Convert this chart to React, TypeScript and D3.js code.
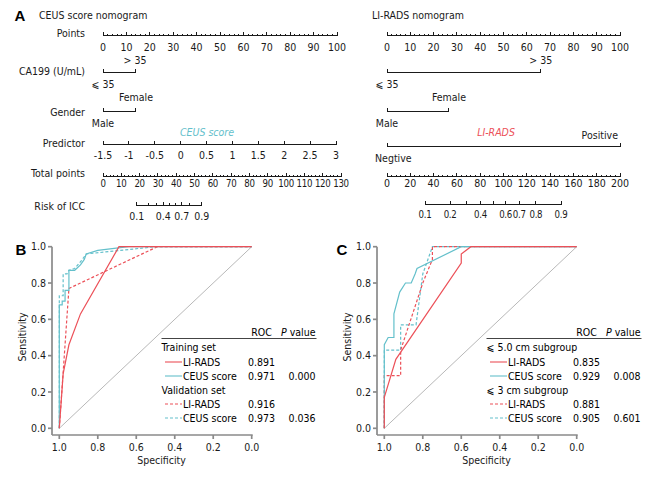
import React from 'react';
import * as d3 from 'd3';

const FONT = "'DejaVu Sans Condensed', 'Liberation Sans', sans-serif";
const RED = '#ec5058';
const TEAL = '#64c0cb';
const AXIS = '#8a8a8a';
const INK = '#1a1a1a';

// ---- nomogram data ----
const pointTicks = d3.range(0, 101, 10);
const pointMinor = d3.range(0, 101, 2);
const ca199Levels = ['⩽ 35', '> 35'];
const ceusCa199Pts = [0, 13.7];
const liradsCa199Pts = [0, 66];
const genderLevels = ['Male', 'Female'];
const ceusGenderPts = [0, 14.1];
const liradsGenderPts = [0, 26.6];
const ceusPredTicks = [-1.5, -1, -0.5, 0, 0.5, 1, 1.5, 2, 2.5, 3];
const liradsPredLevels = ['Negtive', 'Positive'];
const liradsPredPts = [0, 100];
const ceusTotalTicks = d3.range(0, 131, 10);
const ceusTotalMinor = d3.range(0, 131, 2);
const liradsTotalTicks = d3.range(0, 201, 20);
const liradsTotalMinor = d3.range(0, 201, 4);
const riskTicks = [0.1, 0.2, 0.3, 0.4, 0.5, 0.6, 0.7, 0.8, 0.9];
const ceusRiskLabels = [0.1, 0.4, 0.7, 0.9];
const liradsRiskLabels = [0.1, 0.2, 0.4, 0.6, 0.7, 0.8, 0.9];

// ---- ROC data: [specificity, sensitivity] ----
const bTrainLirads = [[1, 0], [0.98, 0.3], [0.95, 0.46], [0.89, 0.63], [0.69, 1], [0, 1]];
const bTrainCeus = [[1, 0], [1, 0.68], [0.985, 0.68], [0.985, 0.7], [0.97, 0.7], [0.97, 0.76], [0.95, 0.76], [0.95, 0.87], [0.92, 0.87], [0.89, 0.9], [0.87, 0.93], [0.86, 0.96], [0.8, 0.98], [0.64, 1], [0, 1]];
const bValidLirads = [[1, 0], [0.95, 0.77], [0.49, 1], [0, 1]];
const bValidCeus = [[1, 0], [1, 0.73], [0.98, 0.73], [0.98, 0.85], [0.96, 0.85], [0.95, 0.87], [0.92, 0.88], [0.88, 0.93], [0.86, 0.96], [0.5, 1], [0, 1]];

const cTrainLirads = [[1, 0], [1, 0.17], [0.94, 0.38], [0.6, 0.91], [0.6, 0.96], [0.55, 1], [0, 1]];
const cTrainCeus = [[1, 0], [1, 0.46], [0.98, 0.5], [0.95, 0.5], [0.95, 0.63], [0.92, 0.75], [0.89, 0.8], [0.86, 0.8], [0.84, 0.85], [0.83, 0.88], [0.6, 1], [0, 1]];
const cValidLirads = [[1, 0], [1, 0.29], [0.915, 0.29], [0.915, 0.43], [0.8, 0.8], [0.75, 0.93], [0.75, 1], [0, 1]];
const cValidCeus = [[1, 0], [1, 0.43], [0.915, 0.43], [0.915, 0.57], [0.835, 0.57], [0.8, 0.85], [0.75, 1], [0, 1]];

const rocTicks = [0, 0.2, 0.4, 0.6, 0.8, 1];
const seriesNames = ['LI-RADS', 'CEUS score'];
const bGroups = ['Training set', 'Validation set'];
const bRoc = ['0.891', '0.971', '0.916', '0.973'];
const bP = ['', '0.000', '', '0.036'];
const cGroups = ['⩽ 5.0 cm subgroup', '⩽ 3 cm subgroup'];
const cRoc = ['0.835', '0.929', '0.881', '0.905'];
const cP = ['', '0.008', '', '0.601'];

const logit = (p: number) => Math.log(p / (1 - p));

function NomoAxis({ x, y, ticks, minor = [], labels, labelY, fmt = (v: number) => String(v), majorLen = 4, minorLen = 2, labelSize }: any) {
  const [a, b] = x.range();
  return (
    <g shapeRendering="crispEdges" stroke={INK}>
      <line x1={a} x2={b} y1={y} y2={y} />
      {minor.map((v: number) => <line key={'m' + v} x1={x(v)} x2={x(v)} y1={y} y2={y - minorLen} />)}
      {ticks.map((v: number) => <line key={'t' + v} x1={x(v)} x2={x(v)} y1={y} y2={y - majorLen} />)}
      <g stroke="none" fill={INK} textAnchor="middle" fontSize={labelSize} letterSpacing={labelSize ? -0.3 : undefined}>
        {labels.map((v: number) => <text key={'l' + v} x={x(v)} y={labelY} dy="0.35em">{fmt(v)}</text>)}
      </g>
    </g>
  );
}

function Bracket({ pts, levels, scale, y, above = 12, below = 12 }: any) {
  const xs = pts.map((p: number) => scale(p));
  return (
    <g>
      <g shapeRendering="crispEdges" stroke={INK}>
        <line x1={xs[0]} x2={xs[1]} y1={y} y2={y} />
        {xs.map((v: number, i: number) => <line key={i} x1={v} x2={v} y1={y} y2={y - 4} />)}
      </g>
      <text x={xs[0]} y={y + below} dy="0.35em" textAnchor="middle">{levels[0]}</text>
      <text x={xs[1]} y={y - above} dy="0.35em" textAnchor="middle">{levels[1]}</text>
    </g>
  );
}

function RocPanel({ dx, tag, curves, groups, roc, p }: any) {
  const x = d3.scaleLinear().domain([1, 0]).range([59.3 + dx, 251.7 + dx]);
  const y = d3.scaleLinear().domain([0, 1]).range([428.3, 246.7]);
  const line = d3.line<number[]>().x(d => x(d[0])).y(d => y(d[1]));
  const axX = 52 + dx;
  const axY = 435;
  const rowY = [347, 362, 376, 390, 404, 418];
  const colRoc = 261.5 + dx;
  const colP = 315.5 + dx;
  const left = 161.5 + dx;
  const styles = [
    { stroke: RED, dash: null },
    { stroke: TEAL, dash: null },
    { stroke: RED, dash: '3,2' },
    { stroke: TEAL, dash: '3,2' },
  ];
  const order = [3, 2, 1, 0];
  return (
    <g>
      <text x={tag === 'B' ? 21 : 342} y={250} dy="0.35em" textAnchor="middle" fontWeight="bold" fontSize={15} fontFamily="'Liberation Sans', sans-serif">{tag}</text>
      <line x1={x(1)} y1={y(0)} x2={x(0)} y2={y(1)} stroke="#b8b8b8" strokeWidth={1} />
      {order.map(i => (
        <path key={i} d={line(curves[i]) || ''} fill="none" stroke={styles[i].stroke} strokeWidth={1.2} strokeDasharray={styles[i].dash || undefined} />
      ))}
      <g stroke={AXIS} strokeWidth={1.7}>
        <line x1={axX} x2={axX} y1={y(1)} y2={axY} />
        <line x1={axX} x2={x(0) + 1} y1={axY} y2={axY} />
        {rocTicks.map(t => <line key={'y' + t} x1={axX - 4} x2={axX} y1={y(t)} y2={y(t)} />)}
        {rocTicks.map(t => <line key={'x' + t} x1={x(t)} x2={x(t)} y1={axY} y2={axY + 4} />)}
      </g>
      <g fill={INK}>
        {rocTicks.map(t => <text key={'yl' + t} x={axX - 6} y={y(t)} dy="0.35em" textAnchor="end">{t.toFixed(1)}</text>)}
        {rocTicks.map(t => <text key={'xl' + t} x={x(t)} y={447} dy="0.35em" textAnchor="middle">{t.toFixed(1)}</text>)}
        <text x={(x(1) + x(0)) / 2 + 6} y={460} dy="0.35em" textAnchor="middle">Specificity</text>
        <text transform={`translate(${22 + dx},${337}) rotate(-90)`} dy="0.35em" textAnchor="middle">Sensitivity</text>
      </g>
      {/* legend table */}
      <line x1={left} x2={colP + 1} y1={338.5} y2={338.5} stroke="#444" strokeWidth={1} />
      <text x={colRoc} y={332} dy="0.35em" textAnchor="middle">ROC</text>
      <text x={colP} y={332} dy="0.35em" textAnchor="end"><tspan fontStyle="italic">P</tspan> value</text>
      {[0, 1].map(g => (
        <g key={g}>
          <text x={left} y={rowY[g * 3]} dy="0.35em">{groups[g]}</text>
          {[0, 1].map(s => {
            const k = g * 2 + s;
            const ry = rowY[g * 3 + 1 + s];
            return (
              <g key={s}>
                <line x1={left + 3.5} x2={left + 20.5} y1={ry} y2={ry} stroke={styles[k].stroke} strokeWidth={1.1} strokeDasharray={styles[k].dash || undefined} />
                <text x={left + 21.5} y={ry} dy="0.35em">{seriesNames[s]}</text>
                <text x={colRoc} y={ry} dy="0.35em" textAnchor="middle">{roc[k]}</text>
                {p[k] ? <text x={colP} y={ry} dy="0.35em" textAnchor="end">{p[k]}</text> : null}
              </g>
            );
          })}
        </g>
      ))}
    </g>
  );
}

function Nomogram({ left, title, titleX }: any) {
  const ceus = left;
  const px = d3.scaleLinear().domain([0, 100]).range(ceus ? [103, 337] : [387, 620]);
  const labX = 85;
  const total = ceus
    ? d3.scaleLinear().domain([0, 130]).range([103, 341])
    : d3.scaleLinear().domain([0, 200]).range([387, 620]);
  const riskLin = ceus
    ? d3.scaleLinear().domain([logit(0.1), logit(0.9)]).range([136.7, 201.7])
    : d3.scaleLinear().domain([logit(0.1), logit(0.9)]).range([425, 561]);
  const risk: any = (p: number) => riskLin(logit(p));
  risk.range = () => [risk(0.1), risk(0.9)];
  const pred = d3.scaleLinear().domain([-1.5, 3]).range([103, 336]);
  return (
    <g fill={INK}>
      <text x={titleX} y={15} dy="0.35em">{title}</text>
      {ceus && (
        <g textAnchor="end">
          <text x={labX} y={35} dy="0.2em">Points</text>
          <text x={labX} y={71} dy="0.35em">CA199 (U/mL)</text>
          <text x={labX} y={112} dy="0.35em">Gender</text>
          <text x={labX} y={143} dy="0.35em">Predictor</text>
          <text x={labX} y={173} dy="0.35em">Total points</text>
          <text x={labX} y={206} dy="0.35em">Risk of ICC</text>
        </g>
      )}
      <NomoAxis x={px} y={35.5} ticks={pointTicks} minor={pointMinor} labels={pointTicks} labelY={47} />
      <Bracket pts={ceus ? ceusCa199Pts : liradsCa199Pts} levels={ca199Levels} scale={px} y={72.5} />
      <Bracket pts={ceus ? ceusGenderPts : liradsGenderPts} levels={genderLevels} scale={px} y={111.5} above={14} />
      {ceus ? (
        <g>
          <text x={207} y={132} dy="0.35em" textAnchor="middle" fill={TEAL} fontStyle="italic">CEUS score</text>
          <NomoAxis x={pred} y={144.5} ticks={ceusPredTicks} labels={ceusPredTicks} labelY={155} />
        </g>
      ) : (
        <g>
          <text x={496} y={132} dy="0.35em" textAnchor="middle" fill={RED} fontStyle="italic">LI-RADS</text>
          <g shapeRendering="crispEdges" stroke={INK}>
            <line x1={px(liradsPredPts[0])} x2={px(liradsPredPts[1])} y1={146.5} y2={146.5} />
            {liradsPredPts.map(v => <line key={v} x1={px(v)} x2={px(v)} y1={146.5} y2={142.5} />)}
          </g>
          <text x={px(liradsPredPts[0]) - 12} y={158} dy="0.35em">{liradsPredLevels[0]}</text>
          <text x={px(liradsPredPts[1]) - 2} y={135} dy="0.35em" textAnchor="end">{liradsPredLevels[1]}</text>
        </g>
      )}
      <NomoAxis x={total} y={176.5} ticks={ceus ? ceusTotalTicks : liradsTotalTicks} minor={ceus ? ceusTotalMinor : liradsTotalMinor} labels={ceus ? ceusTotalTicks : liradsTotalTicks} labelY={183.5} labelSize={ceus ? 9.6 : undefined} />
      <NomoAxis x={risk} y={ceus ? 205.5 : 204.5} ticks={ceus ? ceusRiskLabels : riskTicks} minor={riskTicks} labels={ceus ? ceusRiskLabels : liradsRiskLabels} labelY={ceus ? 216.5 : 215} fmt={(v: number) => v.toFixed(1)} majorLen={4} minorLen={ceus ? 2.5 : 4} labelSize={ceus ? undefined : 9.6} />
    </g>
  );
}

export default function App() {
  return (
    <div style={{ position: 'absolute', left: 0, top: 0 }}>
      <svg width={660} height={477} style={{ display: 'block', background: '#fff' }} fontFamily={FONT} fontSize={10.5}>
        <text x={20} y={16} dy="0.35em" textAnchor="middle" fontWeight="bold" fontSize={15} fontFamily="'Liberation Sans', sans-serif">A</text>
        <Nomogram left={true} title="CEUS score nomogram" titleX={39} />
        <Nomogram left={false} title="LI-RADS nomogram" titleX={372} />
        <RocPanel dx={0} tag="B" curves={[bTrainLirads, bTrainCeus, bValidLirads, bValidCeus]} groups={bGroups} roc={bRoc} p={bP} />
        <RocPanel dx={325} tag="C" curves={[cTrainLirads, cTrainCeus, cValidLirads, cValidCeus]} groups={cGroups} roc={cRoc} p={cP} />
      </svg>
    </div>
  );
}
